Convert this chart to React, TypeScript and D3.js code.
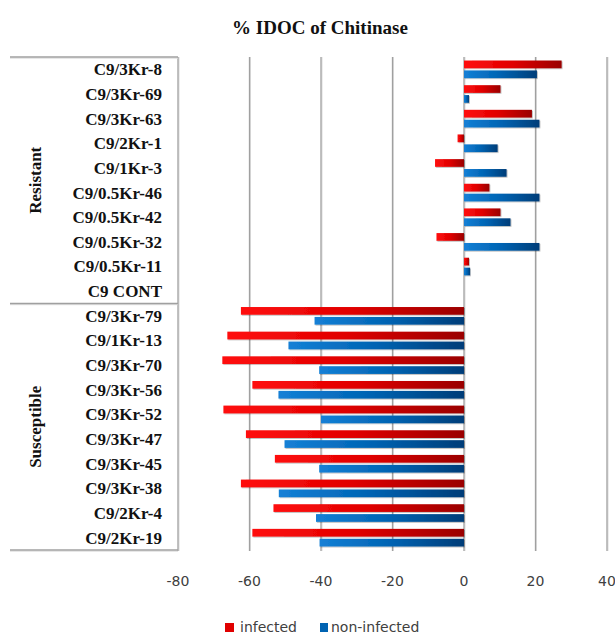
import React from 'react';
import * as d3 from 'd3';

const categories = [
  'C9/3Kr-8', 'C9/3Kr-69', 'C9/3Kr-63', 'C9/2Kr-1', 'C9/1Kr-3',
  'C9/0.5Kr-46', 'C9/0.5Kr-42', 'C9/0.5Kr-32', 'C9/0.5Kr-11', 'C9 CONT',
  'C9/3Kr-79', 'C9/1Kr-13', 'C9/3Kr-70', 'C9/3Kr-56', 'C9/3Kr-52',
  'C9/3Kr-47', 'C9/3Kr-45', 'C9/3Kr-38', 'C9/2Kr-4', 'C9/2Kr-19',
];
const infected = [
  27.3, 10.2, 19, -1.8, -8.1, 7.1, 10.2, -7.7, 1.4, 0,
  -62.4, -66.2, -67.6, -59.2, -67.3, -61, -52.9, -62.4, -53.3, -59.2,
];
const nonInfected = [
  20.4, 1.4, 21.1, 9.4, 11.9, 21.1, 13, 21.1, 1.7, 0,
  -41.8, -49.1, -40.5, -51.9, -40, -50.2, -40.5, -51.8, -41.4, -40.4,
];
const groupNames = ['Resistant', 'Susceptible'];
const groupSizes = [10, 10];
const xTicks = [-80, -60, -40, -20, 0, 20, 40];
const seriesNames = ['infected', 'non-infected'];

const W = 615;
const H = 635;
const left = 178;
const right = 607;
const top = 57;
const bottom = 550;
const boxLeft = 10;

export default function App() {
  const x = d3.scaleLinear().domain([-80, 40]).range([left, right]);
  const y = d3.scaleBand<string>()
    .domain(categories)
    .range([top, bottom])
    .paddingInner(0.286)
    .paddingOuter(0.143);
  const inner = d3.scaleBand<string>()
    .domain(seriesNames)
    .range([0, y.bandwidth()])
    .paddingInner(0.222);

  const serif = '"Liberation Serif", "Times New Roman", serif';
  const sans = '"DejaVu Sans", sans-serif';

  // group separator lines and label centres
  let acc = 0;
  const groups = groupNames.map((g, i) => {
    const first = categories[acc];
    const last = categories[acc + groupSizes[i] - 1];
    acc += groupSizes[i];
    const y0 = y(first)! - y.step() * 0.143;
    const y1 = y(last)! + y.bandwidth() + y.step() * 0.143;
    return { name: g, y0, y1 };
  });

  const bar = (v: number, i: number, s: number) => {
    const cat = categories[i];
    const x0 = x(Math.min(0, v));
    const w = Math.abs(x(v) - x(0));
    if (w <= 0) return null;
    return (
      <rect
        key={s + '-' + i}
        x={x0}
        y={y(cat)! + inner(seriesNames[s])!}
        width={w}
        height={inner.bandwidth()}
        fill={s === 0 ? 'url(#gRed)' : 'url(#gBlue)'}
        filter="url(#shadow)"
      />
    );
  };

  return (
    <svg width={W} height={H} style={{ position: 'absolute', left: 0, top: 0, background: '#fff' }}>
      <defs>
        <linearGradient id="gRed" x1="0" x2="1" y1="0" y2="0">
          <stop offset="0" stopColor="#ff1010" />
          <stop offset="0.5" stopColor="#e00000" />
          <stop offset="1" stopColor="#9a0000" />
        </linearGradient>
        <linearGradient id="gBlue" x1="0" x2="1" y1="0" y2="0">
          <stop offset="0" stopColor="#1480d6" />
          <stop offset="0.5" stopColor="#0063b2" />
          <stop offset="1" stopColor="#003d78" />
        </linearGradient>
        <filter id="shadow" x="-5%" y="-40%" width="110%" height="180%">
          <feDropShadow dx="0.8" dy="0.8" stdDeviation="0.7" floodColor="#000" floodOpacity="0.3" />
        </filter>
      </defs>

      <text x={320} y={34} textAnchor="middle" fontFamily={serif} fontWeight="bold" fontSize={19} fill="#111">
        % IDOC of  Chitinase
      </text>

      {/* gridlines */}
      {xTicks.map(t => (
        <g key={t}>
          <line x1={x(t) + 1} x2={x(t) + 1} y1={top} y2={bottom + 1} stroke="#dcdcdc" strokeWidth={1} />
          <line x1={x(t)} x2={x(t)} y1={top} y2={bottom + 1} stroke="#a0a0a0" strokeWidth={1.3} />
        </g>
      ))}

      {/* category box lines */}
      {[top, ...groups.map(g => g.y1)].map((yy, i) => (
        <g key={'h' + i}>
          <line x1={boxLeft} x2={left} y1={yy + 1.2} y2={yy + 1.2} stroke="#dcdcdc" strokeWidth={1} />
          <line x1={boxLeft} x2={left} y1={yy} y2={yy} stroke="#a0a0a0" strokeWidth={1.3} />
        </g>
      ))}

      {/* bars */}
      {infected.map((v, i) => bar(v, i, 0))}
      {nonInfected.map((v, i) => bar(v, i, 1))}

      {/* category labels */}
      {categories.map(c => (
        <text
          key={c}
          x={162}
          y={y(c)! + y.bandwidth() / 2}
          dy="0.35em"
          textAnchor="end"
          fontFamily={serif}
          fontWeight="bold"
          fontSize={17}
          fill="#111"
        >
          {c}
        </text>
      ))}

      {/* group labels */}
      {groups.map(g => (
        <text
          key={g.name}
          transform={`translate(35,${(g.y0 + g.y1) / 2}) rotate(-90)`}
          dy="0.35em"
          textAnchor="middle"
          fontFamily={serif}
          fontWeight="bold"
          fontSize={17}
          fill="#111"
        >
          {g.name}
        </text>
      ))}

      {/* tick labels */}
      {xTicks.map(t => (
        <text key={'t' + t} x={x(t)} y={586} textAnchor="middle" fontFamily={sans} fontSize={14} fill="#404040">
          {t}
        </text>
      ))}

      {/* legend */}
      <rect x={225} y={623} width={9} height={9} fill="#e00000" />
      <text x={240} y={632} fontFamily={sans} fontSize={14} fill="#404040">infected</text>
      <rect x={320} y={623} width={8} height={9} fill="#0063b2" />
      <text x={331} y={632} fontFamily={sans} fontSize={14} fill="#404040">non-infected</text>
    </svg>
  );
}
